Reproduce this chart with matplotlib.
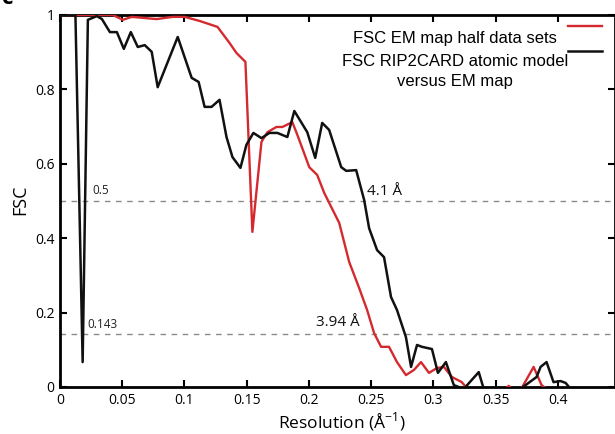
import matplotlib
matplotlib.use('Agg')
from matplotlib import pyplot as plt

plt.rcParams['font.family'] = ['Open Sans', 'DejaVu Sans']
plt.rcParams['mathtext.fontset'] = 'custom'
plt.rcParams['mathtext.rm'] = 'Open Sans'

# FSC EM map half data sets (red)
res_half = [0.0, 0.0425, 0.0505, 0.0577, 0.0777, 0.0905, 0.1002, 0.1122, 0.1266, 0.1362,
            0.1418, 0.1490, 0.1546, 0.1619, 0.1667, 0.1739, 0.1787, 0.1867, 0.1899, 0.1947,
            0.2003, 0.2067, 0.2123, 0.2163, 0.2244, 0.2324, 0.2404, 0.2468, 0.2524, 0.2580,
            0.2644, 0.2708, 0.2780, 0.2845, 0.2901, 0.2965, 0.3029, 0.3085, 0.3149, 0.3229,
            0.3269, 0.3400, 0.3560, 0.3606, 0.3650, 0.3710, 0.3806, 0.3870, 0.3910, 0.4000]
fsc_half = [1.0, 1.0, 0.987, 0.995, 0.989, 0.995, 0.995, 0.984, 0.968, 0.925,
            0.898, 0.874, 0.417, 0.659, 0.685, 0.699, 0.699, 0.712, 0.685, 0.642,
            0.591, 0.570, 0.522, 0.495, 0.441, 0.336, 0.266, 0.207, 0.145, 0.108,
            0.108, 0.067, 0.032, 0.046, 0.067, 0.038, 0.051, 0.054, 0.027, 0.013,
            -0.003, -0.03, -0.01, 0.003, -0.01, -0.003, 0.054, 0.005, -0.005, -0.03]

# FSC RIP2CARD atomic model versus EM map (black)
res_model = [0.0, 0.0124, 0.0182, 0.0224, 0.0296, 0.0337, 0.0401, 0.0457, 0.0513, 0.0569,
             0.0625, 0.0681, 0.0737, 0.0785, 0.0946, 0.1058, 0.1114, 0.1162, 0.1218, 0.1282,
             0.1338, 0.1386, 0.1450, 0.1498, 0.1554, 0.1619, 0.1683, 0.1747, 0.1827, 0.1883,
             0.1987, 0.2051, 0.2107, 0.2163, 0.2260, 0.2300, 0.2380, 0.2444, 0.2484, 0.2548,
             0.2604, 0.2660, 0.2708, 0.2780, 0.2821, 0.2869, 0.2909, 0.2989, 0.3037, 0.3101,
             0.3165, 0.3245, 0.3365, 0.3405, 0.3600, 0.3830, 0.3862, 0.3910, 0.3966, 0.4022,
             0.4063, 0.4103, 0.4200]
fsc_model = [1.0, 1.0, 0.067, 0.987, 0.997, 0.989, 0.954, 0.954, 0.909, 0.954,
             0.914, 0.919, 0.901, 0.806, 0.941, 0.831, 0.820, 0.753, 0.753, 0.772,
             0.672, 0.618, 0.589, 0.651, 0.683, 0.669, 0.683, 0.683, 0.672, 0.742,
             0.685, 0.616, 0.710, 0.691, 0.591, 0.581, 0.583, 0.503, 0.427, 0.368,
             0.349, 0.242, 0.207, 0.134, 0.054, 0.113, 0.108, 0.102, 0.038, 0.067,
             0.005, -0.005, 0.040, -0.005, -0.03, 0.027, 0.054, 0.067, 0.013, 0.016,
             0.011, -0.005, -0.03]

thresholds = [0.5, 0.143]
thr_labels = ['0.5', '0.143']
res_labels = ['4.1 Å', '3.94 Å']

fig = plt.figure(figsize=(6.15, 4.34), dpi=100)
ax = fig.add_axes([60/615, 47/434, 555/615, 372/434])

for t in thresholds:
    ax.axhline(t, color='#8a8a8a', lw=1.0, ls=(0, (4, 4)), zorder=1)

ax.plot(res_half, fsc_half, color='#d42a2f', lw=1.7, zorder=3)
ax.plot(res_model, fsc_model, color='#111111', lw=1.8, zorder=4)

ax.text(0.0257, 0.51, thr_labels[0], fontsize=8.5, va='bottom', color='#222222')
ax.text(0.0217, 0.15, thr_labels[1], fontsize=8.5, va='bottom', color='#222222')
ax.text(0.2466, 0.505, res_labels[0], fontsize=11, va='bottom', color='#111111')
ax.text(0.2056, 0.152, res_labels[1], fontsize=11, va='bottom', color='#111111')

ax.set_xlim(0, 0.446)
ax.set_ylim(0, 1)
ax.set_xticks([0, 0.05, 0.1, 0.15, 0.2, 0.25, 0.3, 0.35, 0.4])
ax.set_xticklabels(['0', '0.05', '0.1', '0.15', '0.2', '0.25', '0.3', '0.35', '0.4'])
ax.set_yticks([0, 0.2, 0.4, 0.6, 0.8, 1])
ax.set_yticklabels(['0', '0.2', '0.4', '0.6', '0.8', '1'])
ax.tick_params(direction='in', top=True, right=True, length=5, width=1.5, labelsize=10, pad=4)
for s in ax.spines.values():
    s.set_linewidth(2.0)

# legend drawn by hand
leg_font = ['Liberation Sans', 'DejaVu Sans']
ax.plot([0.915, 0.977], [0.970, 0.970], transform=ax.transAxes, color='#d42a2f', lw=1.7, clip_on=False)
ax.plot([0.915, 0.977], [0.903, 0.903], transform=ax.transAxes, color='#111111', lw=1.8, clip_on=False)
ax.text(0.712, 0.938, 'FSC EM map half data sets', transform=ax.transAxes, ha='center', va='center',
        fontsize=12, family=leg_font)
ax.text(0.712, 0.874, 'FSC RIP2CARD atomic model', transform=ax.transAxes, ha='center', va='center',
        fontsize=12, family=leg_font)
ax.text(0.712, 0.820, 'versus EM map', transform=ax.transAxes, ha='center', va='center',
        fontsize=12, family=leg_font)

fig.text(20/615, 1 - 200/434, 'FSC', rotation=90, ha='center', va='center', fontsize=13)
fig.text(342/615, 1 - 422/434, r'Resolution (Å$^{\mathregular{-1}}$)', ha='center', va='center', fontsize=12.5)
fig.text(0.004, 0.991, 'c', fontsize=16, fontweight='bold', va='baseline')

fig.savefig('out.png', dpi=100)
